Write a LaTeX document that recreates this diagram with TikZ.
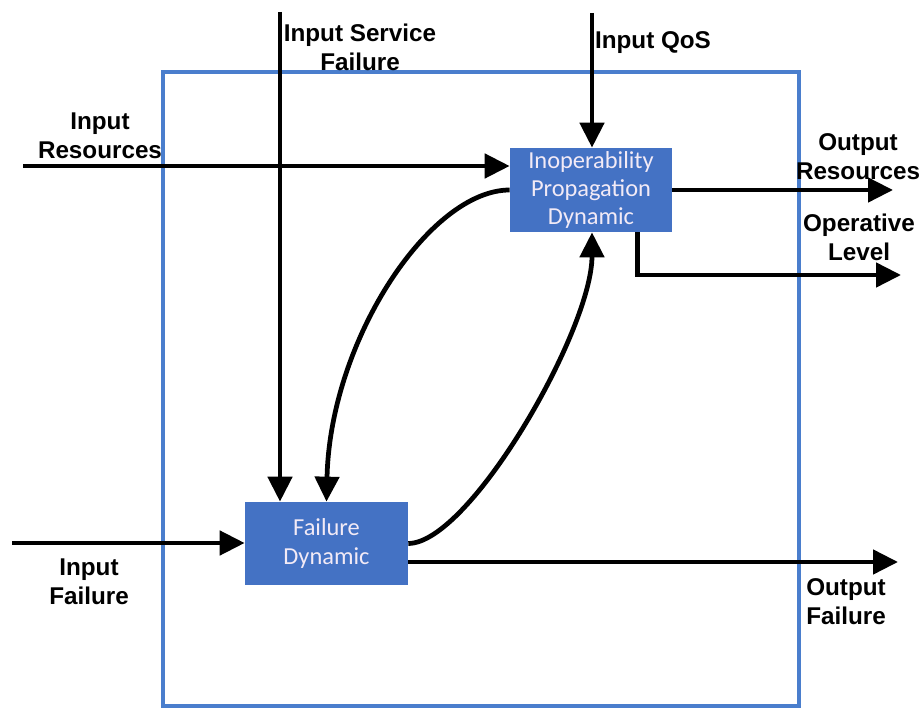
\documentclass[tikz,border=0pt]{standalone}
\usepackage{fontspec}
\newfontfamily\lblfont{Liberation Sans}
\newfontfamily\boxfont{Carlito}
\usetikzlibrary{arrows.meta}
\definecolor{frameblue}{RGB}{74,126,205}
\definecolor{boxblue}{RGB}{68,114,196}
\definecolor{boxtext}{RGB}{242,234,246}
\tikzset{
  dynbox/.style={fill=boxblue, text=boxtext, inner sep=0pt, align=center,
    font=\boxfont\fontsize{13.9}{16}\selectfont},
  lbl/.style={inner sep=0pt, align=center,
    font=\lblfont\bfseries\fontsize{13.8}{16.5}\selectfont},
  flow/.style={line width=0.095cm, -{Triangle[length=0.5cm,width=0.48cm]}},
}
\begin{document}
\begin{tikzpicture}[x=0.02cm,y=-0.02cm]
\useasboundingbox (0,0) rectangle (920,709);

% system border
\draw[frameblue, line width=0.07cm] (163,72) rectangle (799,706);

\node[dynbox, minimum width=3.24cm, minimum height=1.68cm] (ipd) at (591,190) {Inoperability\\Propagation\\Dynamic};
\node[dynbox, minimum width=3.26cm, minimum height=1.66cm] (fd) at (326.5,543.5) {Failure\\Dynamic};

\coordinate (qosin) at (592,13);
\coordinate (sfin) at (280,12);
\coordinate (resin) at (23,166);
\coordinate (resout) at (893,190);
\coordinate (opout) at (901,275);
\coordinate (failin) at (12,543);
\coordinate (failout) at (898,562);

\node[lbl] (qoslbl) at (653,43) {Input QoS};
\node[lbl] (sflbl) at (360,47) {Input Service\\Failure};
\node[lbl] (reslbl) at (100,136) {Input\\Resources};
\node[lbl] (resoutlbl) at (858,157) {Output\\Resources};
\node[lbl] (oplbl) at (859,237) {Operative\\Level};
\node[lbl] (faillbl) at (89,582) {Input\\Failure};
\node[lbl] (failoutlbl) at (846,602) {Output\\Failure};

% inputs
\draw[flow] (qosin) -- (qosin |- ipd.north);
\draw[flow] (sfin) -- (sfin |- fd.north);
\draw[flow] (resin) -- (resin -| ipd.west);
\draw[flow] (failin) -- (failin -| fd.west);

% outputs
\draw[flow] (ipd.east) -- (resout);
\draw[flow] ([xshift=-0.7cm]ipd.south east) |- (opout);
\draw[flow] (fd.east |- failout) -- (failout);

% coupling between the two dynamics
\draw[flow] (ipd.west) .. controls (430,190) and (330,340) .. (fd.north);
\draw[flow] (fd.east) .. controls (470,543) and (592,330) .. (qosin |- ipd.south);
\end{tikzpicture}
\end{document}
